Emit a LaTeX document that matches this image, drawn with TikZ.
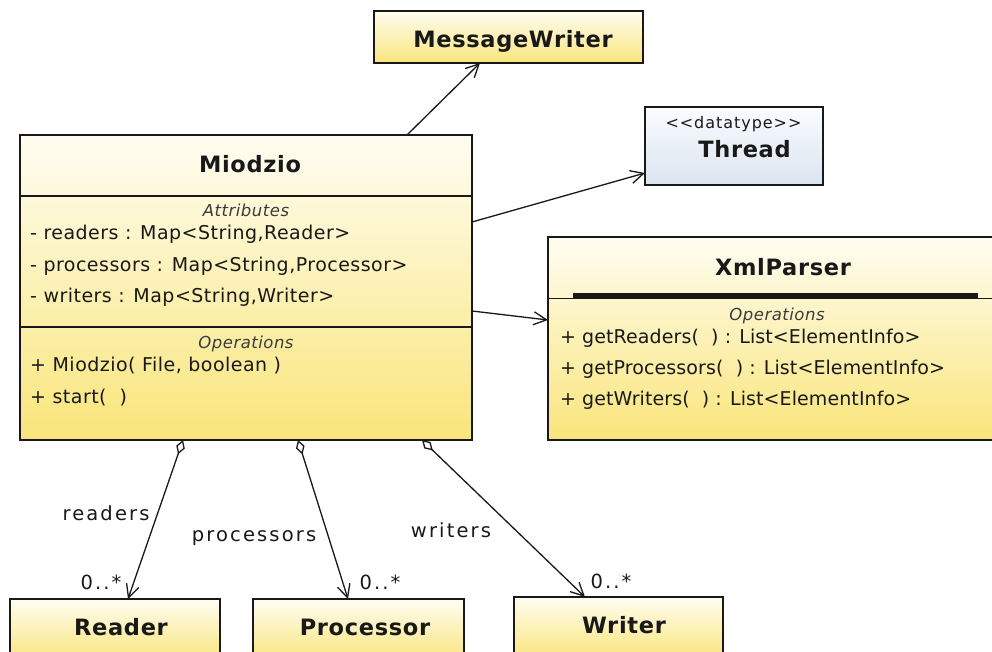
\documentclass[tikz,border=0pt]{standalone}
\usepackage{fontspec}
\setmainfont{DejaVu Sans}[Ligatures=TeXOff]
\usetikzlibrary{arrows.meta}

\definecolor{umltop}{RGB}{255,253,242}
\definecolor{umlbot}{RGB}{249,229,122}
\definecolor{dttop}{RGB}{250,252,255}
\definecolor{dtbot}{RGB}{218,228,240}
\definecolor{ink}{RGB}{25,25,25}

\tikzset{
  classbox/.style={draw=ink, line width=1.6pt, top color=umltop, bottom color=umlbot,
    anchor=north west, inner sep=0pt, outer sep=0pt},
  typebox/.style={draw=ink, line width=1.6pt, top color=dttop, bottom color=dtbot,
    anchor=north west, inner sep=0pt, outer sep=0pt},
  classname/.style={anchor=base, inner sep=0pt, text=ink,
    font=\fontsize{22.5}{26}\selectfont\bfseries\addfontfeatures{LetterSpace=3}},
  member/.style={anchor=base west, inner sep=0pt, text=ink,
    font=\fontsize{19}{23}\selectfont\addfontfeatures{LetterSpace=2.5}},
  opmember/.style={anchor=base west, inner sep=0pt, text=ink,
    font=\fontsize{19}{23}\selectfont\addfontfeatures{LetterSpace=0.5}},
  section/.style={anchor=base, inner sep=0pt, text=ink!85,
    font=\fontsize{16.5}{19}\selectfont\itshape\addfontfeatures{LetterSpace=3}},
  stereo/.style={anchor=base, inner sep=0pt, text=ink,
    font=\fontsize{16}{19}\selectfont\addfontfeatures{LetterSpace=6}},
  rolelabel/.style={anchor=base, inner sep=0pt, text=ink,
    font=\fontsize{19.5}{23}\selectfont\addfontfeatures{LetterSpace=11}},
  divider/.style={draw=ink, line width=1.6pt},
  barb/.style={-{Straight Barb[length=13pt,width=13pt,line width=1.3pt]}},
  assoc/.style={draw=ink, line width=1.3pt, barb},
  aggr/.style={draw=ink, line width=1.3pt,
    {Diamond[open,fill=white,length=15pt,width=9pt,line width=1.3pt]}-{Straight Barb[length=13pt,width=13pt,line width=1.3pt]}},
}

\begin{document}
\begin{tikzpicture}[x=1pt,y=-1pt]
\useasboundingbox (0,0) rectangle (992,652);
\fill[white] (0,0) rectangle (992,652);

% ---- MessageWriter
\node[classbox, minimum width=269pt, minimum height=52pt] (mwriter) at (374,11) {};
\node[classname] (mwriterName) at (513,48) {MessageWriter};

% ---- Thread (datatype)
\node[typebox, minimum width=178pt, minimum height=78pt] (thread) at (645,107) {};
\node[stereo] (threadStereo) at (733.5,129) {<<datatype>>};
\node[classname] (threadName) at (744.5,157.5) {Thread};

% ---- Miodzio
\node[classbox, minimum width=452pt, minimum height=305pt] (miodzio) at (20,135) {};
\draw[divider] (20,196) -- (472,196);
\draw[divider] (20,327) -- (472,327);
\node[classname] (miodzioName) at (250,172.5) {Miodzio};
\node[section] (miodzioAttr) at (246,217) {Attributes};
\node[member] (attrReaders) at (30,240) {- readers : Map<String,Reader>};
\node[member] (attrProcessors) at (30,271.5) {- processors : Map<String,Processor>};
\node[member] (attrWriters) at (30,302.5) {- writers : Map<String,Writer>};
\node[section] (miodzioOps) at (246,348) {Operations};
\node[member] (opCtor) at (30,371.5) {+ Miodzio( File, boolean )};
\node[member] (opStart) at (30,403) {+ start( \ )};

% ---- XmlParser
\node[classbox, minimum width=470pt, minimum height=203pt] (xml) at (548,237) {};
\draw[divider] (548,298.5) -- (1018,298.5);
\draw[ink, line width=4.5pt] (573,295.5) -- (978,295.5);
\node[classname] (xmlName) at (783,275) {XmlParser};
\node[section] (xmlOps) at (777,320.5) {Operations};
\node[opmember] (opReaders) at (560,343.5) {+ getReaders( \ ) : List<ElementInfo>};
\node[opmember] (opProcessors) at (560,374) {+ getProcessors( \ ) : List<ElementInfo>};
\node[opmember] (opWriters) at (560,405) {+ getWriters( \ ) : List<ElementInfo>};

% ---- Reader, Processor, Writer
\node[classbox, minimum width=210pt, minimum height=62pt] (reader) at (10,599) {};
\node[classname] (readerName) at (121,635) {Reader};
\node[classbox, minimum width=211pt, minimum height=62pt] (processor) at (253,599) {};
\node[classname] (processorName) at (365,635) {Processor};
\node[classbox, minimum width=209pt, minimum height=62pt] (writer) at (514,597) {};
\node[classname] (writerName) at (624,633) {Writer};

% ---- dependencies / associations
\draw[assoc] ([xshift=387pt]miodzio.north west) -- ([xshift=106pt]mwriter.south west);
\draw[assoc] ([yshift=-87pt]miodzio.north east) -- ([yshift=-66pt]thread.north west);
\draw[assoc] ([yshift=-176pt]miodzio.north east) -- ([yshift=-83pt]xml.north west);

% ---- aggregations
\draw[aggr] ([xshift=163pt]miodzio.south west) -- ([xshift=118pt]reader.north west);
\draw[aggr] ([xshift=278pt]miodzio.south west) -- ([xshift=95pt]processor.north west);
\draw[aggr] ([xshift=402pt]miodzio.south west) -- ([xshift=71pt]writer.north west);

\node[rolelabel] (lblReaders) at (106,520) {readers};
\node[rolelabel] (lblProcessors) at (254,541) {processors};
\node[rolelabel] (lblWriters) at (451,537) {writers};
\node[rolelabel] (multReader) at (101,589) {0..*};
\node[rolelabel] (multProcessor) at (380,589) {0..*};
\node[rolelabel] (multWriter) at (611,588) {0..*};
\end{tikzpicture}
\end{document}
